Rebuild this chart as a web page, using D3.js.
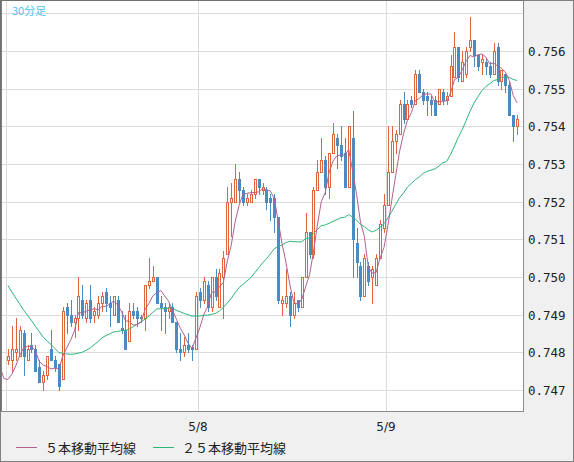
<!DOCTYPE html>
<html><head><meta charset="utf-8">
<script src="https://cdn.jsdelivr.net/npm/d3@7/dist/d3.min.js"></script>
<style>body{margin:0;background:#f0f0f0}svg{display:block}</style>
</head><body>
<svg id="c" width="574" height="462"></svg>
<script>
const title = "30分足";
const yTicks = [0.747,0.748,0.749,0.750,0.751,0.752,0.753,0.754,0.755,0.756,0.757];
const dateLabels = ["5/8","5/9"];
const dateIdx = [49,97];
const priorCloses = [0.7524,0.7521,0.7526,0.7519,0.7515,0.7517,0.7512,0.7508,0.7510,0.7505,0.7501,0.7503,0.7498,0.7494,0.7496,0.7490,0.7487,0.7489,0.7484,0.7480,0.7474,0.7470,0.7472,0.7469];
const rows = [
[.7478,.7481,.7477,.7479],[.7478,.7487,.7475,.7481],[.7480,.7489,.7478,.7481],[.7479,.7487,.7479,.7486],[.7485,.7486,.7474,.7479],
[.7478,.7482,.7478,.7481],[.7482,.7485,.7480,.7481],[.7481,.7482,.7475,.7475],[.7476,.7478,.7472,.7472],[.7472,.7475,.7470,.7474],
[.7474,.7479,.7473,.7479],[.7481,.7486,.7478,.7478],[.7478,.7479,.7475,.7476],[.7477,.7477,.7470,.7471],[.7473,.7492,.7473,.7491],
[.7492,.7493,.7485,.7490],[.7490,.7494,.7487,.7488],[.7488,.7490,.7484,.7489],[.7489,.7500,.7486,.7495],[.7494,.7498,.7489,.7490],
[.7489,.7494,.7488,.7493],[.7494,.7498,.7488,.7489],[.7490,.7492,.7488,.7491],[.7490,.7495,.7489,.7493],[.7493,.7496,.7491,.7495],
[.7496,.7497,.7491,.7493],[.7493,.7495,.7487,.7492],[.7490,.7495,.7490,.7495],[.7494,.7495,.7488,.7488],[.74865,.7491,.7485,.7486],
[.7486,.7490,.7481,.7481],[.7483,.7493,.7483,.7491],[.7491,.7493,.7489,.7490],[.7491,.7492,.7487,.7489],[.74895,.7490,.7488,.7489],
[.7489,.7498,.7486,.7498],[.7498,.7505,.7497,.7499],[.7499,.7503,.7499,.7500],[.7500,.7500,.7493,.7493],[.7493,.7495,.7486,.7492],
[.7492,.7493,.7485,.7491],[.7491,.7493,.7489,.7492],[.7492,.7493,.7488,.7488],[.7488,.7488,.7480,.7481],[.7481,.7485,.7478,.7480],
[.7480,.7484,.7479,.7482],[.7482,.7485,.7480,.7481],[.74815,.7482,.7478,.7481],[.7481,.7496,.7481,.7495],[.7496,.7497,.7492,.7494],
[.7494,.7500,.7493,.7499],[.7498,.7499,.7491,.7492],[.7492,.7500,.7491,.7500],[.7500,.7502,.7494,.7495],[.7492,.7502,.7492,.7501],
[.7500,.7507,.7489,.7505],[.7506,.7524,.7506,.7520],[.7520,.7525,.7511,.7521],[.7520,.7530,.7520,.7526],[.7526,.7528,.7520,.7523],
[.7523,.7524,.7519,.7520],[.7520,.7522,.7519,.7521],[.7520,.7523,.7520,.7522],[.7522,.7526,.7521,.7526],[.7526,.7526,.7522,.7524],
[.7523,.7525,.7522,.7524],[.7523,.7524,.7518,.7520],[.7521,.7522,.7515,.7520],[.7521,.7522,.7512,.7516],[.7516,.7516,.7493,.7494],
[.7493,.7495,.7490,.7494],[.7493,.7502,.7492,.7495],[.7495,.7496,.7487,.7490],[.7490,.7496,.7489,.7493],[.7494,.7494,.7491,.7492],
[.7492,.7500,.7492,.7500],[.7500,.7517,.7500,.7512],[.7512,.7512,.7505,.7506],[.7506,.7524,.7505,.7523],[.7523,.7531,.7523,.7528],
[.7528,.7537,.7528,.7531],[.7531,.7532,.7522,.7524],[.7524,.7533,.7521,.7533],[.7533,.7541,.7533,.7538],[.7537,.7538,.7529,.7535],
[.7535,.7540,.7531,.7532],[.7533,.7537,.7524,.7524],[.7524,.7540,.7524,.7540],[.7537,.7544,.7500,.7510],[.7509,.7513,.7500,.7504],
[.7503,.7504,.7494,.7495],[.7495,.7506,.7495,.7505],[.7503,.7504,.7498,.7499],[.7500,.7503,.7493,.7502],[.7498,.7506,.7498,.7505],
[.7505,.7515,.7505,.7514],[.7513,.7522,.7512,.7519],[.7519,.7540,.7519,.7528],[.7528,.7540,.7528,.7536],[.7536,.7539,.7533,.7538],
[.7538,.7547,.7538,.7546],[.7546,.7549,.7541,.7542],[.7542,.7547,.7542,.7546],[.7547,.7548,.7545,.7546],[.7546,.7555,.7546,.7554],
[.7554,.7555,.7549,.7549],[.7549,.7550,.7546,.7547],[.7548,.7549,.7543,.7547],[.7547,.7548,.7543,.7546],[.7547,.7548,.7543,.7543],
[.7546,.7550,.7546,.7550],[.7549,.7550,.7546,.7547],[.7547,.7549,.7546,.7548],[.7548,.7559,.7548,.7556],[.7553,.7565,.7553,.7561],
[.7561,.7561,.7552,.7553],[.7552,.7560,.7552,.7557],[.7554,.7561,.7553,.7560],[.7561,.7569,.7560,.7563],[.7563,.7563,.7556,.7559],
[.7559,.7559,.7555,.7556],[.7557,.7559,.7554,.7558],[.7557,.7558,.7554,.7556],[.7556,.7557,.7553,.7554],[.7554,.7562,.7554,.7560],
[.7561,.7562,.7551,.7552],[.7552,.7555,.7550,.7555],[.7554,.7554,.7549,.7551],[.7551,.7552,.7543,.7543],[.7543,.7543,.7536,.7540],
[.7540,.7543,.7538,.7542]];
const opens = rows.map(r=>r[0]), highs = rows.map(r=>r[1]), lows = rows.map(r=>r[2]), closes = rows.map(r=>r[3]);

const svg = d3.select("#c");
const L=1, R=523, T=1, B=411, nSlots=132;
const x = d3.scaleLinear().domain([0,nSlots]).range([6,523]);
const y = d3.scaleLinear().domain([0.747,0.757]).range([390,13.3]);

svg.append("rect").attr("x",0.5).attr("y",0.5).attr("width",573).attr("height",461).attr("fill","#f0f0f0").attr("stroke","#808080");
svg.append("rect").attr("x",L).attr("y",T).attr("width",R-L).attr("height",B-T).attr("fill","#fff");
svg.append("defs").append("clipPath").attr("id","cp").append("rect").attr("x",L).attr("y",T).attr("width",R-L).attr("height",B-T);
const g = svg.append("g").attr("clip-path","url(#cp)").attr("shape-rendering","crispEdges");
yTicks.forEach(t=>g.append("line").attr("x1",L).attr("x2",R).attr("y1",Math.round(y(t))+0.5).attr("y2",Math.round(y(t))+0.5).attr("stroke","#dcdcdc"));
g.append("line").attr("x1",6.5).attr("x2",6.5).attr("y1",T).attr("y2",B).attr("stroke","#dcdcdc");
dateIdx.forEach(i=>g.append("line").attr("x1",Math.round(x(i))+0.5).attr("x2",Math.round(x(i))+0.5).attr("y1",T).attr("y2",B).attr("stroke","#dcdcdc"));

const up="#e0643c", dn="#4a8bc2";
rows.forEach((r,i)=>{
  const cx = Math.round(x(i+0.5));
  const isUp = closes[i] >= opens[i];
  const col = isUp?up:dn;
  const yt = Math.round(y(Math.max(opens[i],closes[i]))), yb = Math.round(y(Math.min(opens[i],closes[i])));
  g.append("line").attr("x1",cx+0.5).attr("x2",cx+0.5).attr("y1",Math.round(y(highs[i]))).attr("y2",Math.round(y(lows[i]))+1).attr("stroke",col);
  if(isUp){
    g.append("rect").attr("x",cx-0.5).attr("y",yt+0.5).attr("width",2).attr("height",Math.max(yb-yt,1)).attr("fill","#fff").attr("stroke",col);
  } else {
    g.append("rect").attr("x",cx-1).attr("y",yt).attr("width",3).attr("height",Math.max(yb-yt,1)+1).attr("fill",col);
  }
});

const all = priorCloses.concat(closes);
function sma(n){const out=[];for(let k=n-1;k<all.length;k++){out.push({i:k-priorCloses.length,v:d3.mean(all.slice(k-n+1,k+1))});}return out;}
const line = d3.line().x(d=>x(d.i+0.5)).y(d=>y(d.v));
const g2 = svg.append("g").attr("clip-path","url(#cp)");
g2.append("path").datum(sma(25).filter(d=>d.i>=-2)).attr("d",line).attr("fill","none").attr("stroke","#2db57a").attr("stroke-width",1);
g2.append("path").datum(sma(5).filter(d=>d.i>=-2)).attr("d",line).attr("fill","none").attr("stroke","#b4608e").attr("stroke-width",1);

svg.append("rect").attr("x",L+0.5).attr("y",T-0.5).attr("width",R-L).attr("height",B-T+1).attr("fill","none").attr("stroke","#8a8a8a");
svg.append("line").attr("x1",0.5).attr("x2",0.5).attr("y1",0).attr("y2",B).attr("stroke","#707070").attr("stroke-width",2);
svg.append("line").attr("x1",0).attr("x2",R).attr("y1",0.5).attr("y2",0.5).attr("stroke","#707070").attr("stroke-width",1);

svg.append("text").attr("x",12).attr("y",15).text(title).attr("fill","#4cc3ee").attr("font-size",11).attr("font-family","'Noto Sans CJK JP',sans-serif");
yTicks.slice(0,10).forEach(t=>svg.append("text").attr("x",528).attr("y",y(t)+5).text(t.toFixed(3)).attr("font-family","'DejaVu Sans Mono',monospace").attr("font-size",12.5).attr("fill","#222"));
dateIdx.forEach((i,k)=>svg.append("text").attr("x",x(i)).attr("y",431).attr("text-anchor","middle").text(dateLabels[k]).attr("font-family","'DejaVu Sans',sans-serif").attr("font-size",12).attr("fill","#222"));

const legend=[{t:"５本移動平均線",c:"#b4608e",x:16},{t:"２５本移動平均線",c:"#2db57a",x:153}];
legend.forEach(l=>{
  svg.append("line").attr("x1",l.x).attr("x2",l.x+21).attr("y1",447.5).attr("y2",447.5).attr("stroke",l.c);
  svg.append("text").attr("x",l.x+29).attr("y",453).text(l.t).attr("font-family","'Noto Sans CJK JP',sans-serif").attr("font-size",13).attr("fill","#222");
});
</script></body></html>
